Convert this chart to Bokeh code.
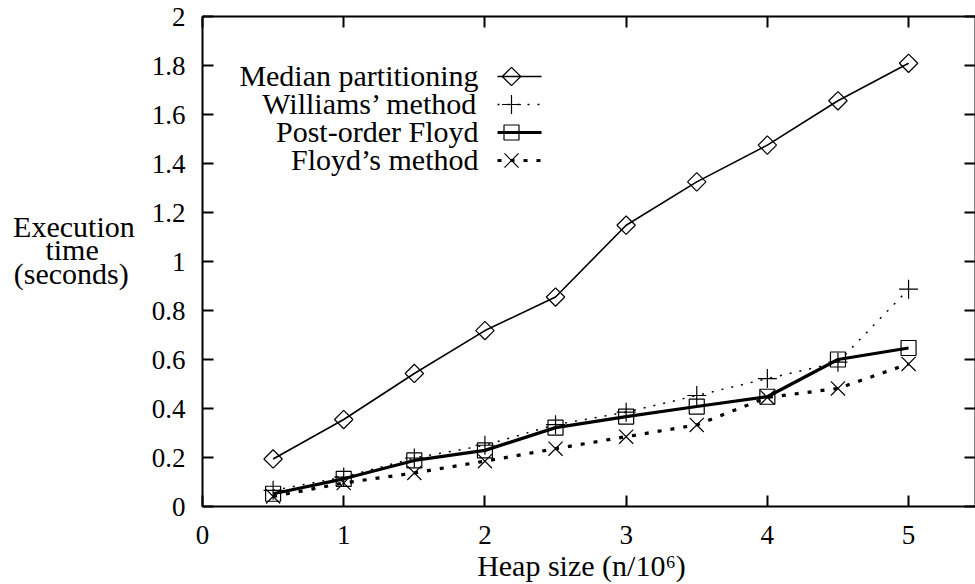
import math
from bokeh.plotting import figure
from bokeh.models import Range1d, LinearAxis, FixedTicker, Label
from bokeh.embed import file_html
from bokeh.resources import INLINE

# ---------------- data ----------------
heap_size = [0.5, 1.0, 1.5, 2.0, 2.5, 3.0, 3.5, 4.0, 4.5, 5.0]
median_partitioning = [0.194, 0.355, 0.543, 0.718, 0.855, 1.148, 1.325, 1.475, 1.656, 1.809]
williams_method = [0.066, 0.120, 0.198, 0.250, 0.334, 0.385, 0.453, 0.522, 0.589, 0.887]
post_order_floyd = [0.052, 0.113, 0.188, 0.229, 0.322, 0.367, 0.408, 0.448, 0.600, 0.647]
floyds_method = [0.041, 0.096, 0.137, 0.185, 0.236, 0.285, 0.333, 0.445, 0.482, 0.582]

series_names = ["Median partitioning", "Williams\u2019 method", "Post-order Floyd", "Floyd\u2019s method"]
x_ticks = [0, 1, 2, 3, 4, 5]
y_ticks = [0, 0.2, 0.4, 0.6, 0.8, 1.0, 1.2, 1.4, 1.6, 1.8, 2.0]
y_tick_labels = ["0", "0.2", "0.4", "0.6", "0.8", "1", "1.2", "1.4", "1.6", "1.8", "2"]
x_label = "Heap size (n/10\u2076)"
y_label_lines = ["Execution", "time", "(seconds)"]

# ---------------- layout ----------------
X_MAX = 5.474
Y_MAX = 2.0
W, H = 975, 584
BL, BR, BT, BB = 202, 0, 16, 78
FRAME_W = W - BL - BR
FRAME_H = H - BT - BB
FONT = "Liberation Serif"
NB = "\u00a0"

# canvas pixel -> data helpers (used only for legend placement)
def px_x(px):
    return (px - BL) * X_MAX / FRAME_W

def px_y(py):
    return (H - BB - py) * Y_MAX / FRAME_H

p = figure(width=W, height=H, x_range=Range1d(0, X_MAX), y_range=Range1d(0, Y_MAX),
           output_backend="svg", toolbar_location=None,
           min_border_left=BL, min_border_right=BR, min_border_top=BT, min_border_bottom=BB,
           background_fill_color="white", border_fill_color="white")
p.outline_line_color = None
p.xgrid.visible = False
p.ygrid.visible = False

def style_axis(ax, ticks, show_labels):
    ax.ticker = FixedTicker(ticks=ticks)
    ax.axis_line_width = 2
    ax.axis_line_color = "black"
    ax.major_tick_in = 11
    ax.major_tick_out = 0
    ax.major_tick_line_width = 2
    ax.major_tick_line_color = "black"
    ax.minor_tick_line_color = None
    ax.major_label_text_font = FONT
    ax.major_label_text_color = "black"
    if show_labels:
        ax.major_label_text_font_size = "27px"
    else:
        ax.major_label_text_font_size = "0px"
        ax.major_label_standoff = 0

style_axis(p.xaxis[0], x_ticks, True)
style_axis(p.yaxis[0], y_ticks, True)
p.xaxis[0].major_label_standoff = 19
p.yaxis[0].major_label_standoff = 17
p.yaxis[0].major_label_overrides = {t: l for t, l in zip(y_ticks, y_tick_labels)}

xa = p.xaxis[0]
xa.axis_label = x_label + NB * 2
xa.axis_label_text_font = FONT
xa.axis_label_text_font_size = "30px"
xa.axis_label_text_font_style = "normal"
xa.axis_label_text_color = "black"
xa.axis_label_standoff = 2

# multi-line horizontal y label (lines are right-aligned by the axis, so pad to centre them)
ya = p.yaxis[0]
ya.axis_label = "\n".join([y_label_lines[0],
                           y_label_lines[1] + NB * 4 + "\u2009",
                           y_label_lines[2] + "\u2009",
                           NB])
ya.axis_label_text_font = FONT
ya.axis_label_text_font_size = "30px"
ya.axis_label_text_font_style = "normal"
ya.axis_label_text_color = "black"
ya.axis_label_text_line_height = 0.71
ya.axis_label_standoff = 14
try:
    ya.axis_label_orientation = "horizontal"
except Exception:
    pass

top_axis = LinearAxis()
style_axis(top_axis, x_ticks, False)
p.add_layout(top_axis, "above")
right_axis = LinearAxis()
style_axis(right_axis, y_ticks, False)
p.add_layout(right_axis, "right")

# ---------------- series ----------------
styles = [
    dict(data=median_partitioning, width=1.6, dash="solid", marker="square", size=13, angle=math.pi / 4),
    dict(data=williams_method, width=1.5, dash="2 8", marker="cross", size=19, angle=0),
    dict(data=post_order_floyd, width=3.2, dash="solid", marker="square", size=15, angle=0),
    dict(data=floyds_method, width=3.2, dash="4 9", marker="x", size=20, angle=0),
]

for st in styles:
    p.line(heap_size, st["data"], line_color="black", line_width=st["width"], line_dash=st["dash"])
    p.scatter(heap_size, st["data"], marker=st["marker"], size=st["size"], angle=st["angle"],
              line_color="black", line_width=1.2, fill_alpha=0)

# ---------------- legend (labels left, samples right) ----------------
rows_px = [76, 104, 132, 160]
for name, st, ry in zip(series_names, styles, rows_px):
    p.add_layout(Label(x=px_x(478), y=px_y(ry - 1), text=name, text_align="right",
                       text_baseline="alphabetic", text_font=FONT, text_font_size="30px",
                       text_color="black"))
    p.line([px_x(497), px_x(541)], [px_y(ry), px_y(ry)], line_color="black",
           line_width=st["width"], line_dash=st["dash"])
    p.scatter([px_x(511)], [px_y(ry)], marker=st["marker"], size=st["size"], angle=st["angle"],
              line_color="black", line_width=1.2, fill_alpha=0)

open("out.html", "w").write(file_html(p, INLINE))
